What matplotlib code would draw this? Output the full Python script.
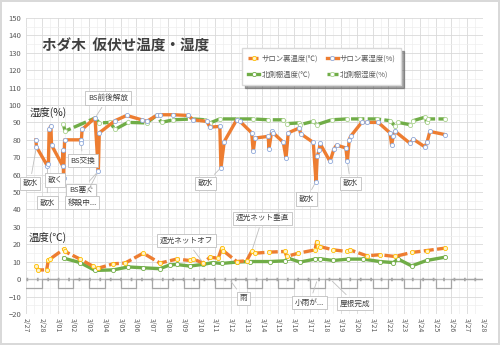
import matplotlib.pyplot as plt
from matplotlib.ticker import MultipleLocator

plt.rcParams['font.family'] = ['Noto Sans CJK JP', 'DejaVu Sans']

# days counted from 2/27 00:00
dates = ["2/27", "2/28"] + ["3/%02d" % i for i in range(1, 29)]

salon_hum_x = [0.63, 0.66, 1.36, 1.42, 1.47, 1.58, 1.62, 2.33, 2.36, 2.38, 2.45, 3.47, 3.50, 3.56,
               4.38, 4.59, 4.65, 5.65, 6.39, 7.34, 7.66, 8.29, 8.50, 9.33, 10.30, 10.60, 11.47,
               11.68, 12.30, 12.37, 12.58, 13.37, 13.58, 14.32, 14.42, 14.53, 15.37, 15.42, 15.59,
               15.69, 16.33, 16.50, 16.64, 17.34, 17.43, 18.23, 18.40, 18.48, 18.61, 18.65, 19.29,
               19.54, 19.71, 20.30, 20.39, 20.51, 20.60, 21.30, 21.62, 22.35, 23.10, 23.20, 23.30,
               23.41, 24.37, 24.57, 25.32, 25.46, 25.63, 26.59]
salon_hum = [80, 76, 65, 66, 86, 88, 77, 65, 74, 58, 80, 80, 78, 86,
             92.6, 62, 84, 91, 94, 91.5, 90.6, 94, 94.4, 94.4, 94, 91.5, 90.6,
             87.3, 87.7, 64, 79, 91.5, 90.6, 84, 73.3, 81, 82, 75, 84.8,
             84, 78.5, 69.5, 84, 86.8, 83.5, 78.5, 56, 70.5, 74.3, 78, 67.6,
             74.7, 77, 75.3, 67.6, 80, 82, 90, 90, 90, 84, 77, 82,
             85, 78, 80.4, 75.9, 79, 84.8, 83]

north_hum_x = [2.37, 2.48, 4.38, 4.65, 5.33, 5.65, 6.47, 7.66, 8.29, 8.60, 9.33, 10.60, 11.36,
               11.68, 12.30, 13.37, 14.40, 15.37, 16.33, 16.55, 17.30, 17.39, 18.23, 18.45, 19.40,
               20.35, 21.20, 22.25, 23.10, 23.41, 23.62, 24.37, 24.57, 25.32, 25.42, 25.53, 26.59]
north_hum = [89, 85, 92.5, 89.7, 90, 86, 90, 89.7, 94, 90, 91.5, 92, 91.5,
             89.7, 92, 92, 92, 91.5, 91.5, 89.3, 89.7, 88.7, 90.6, 88.7, 91.5,
             92, 92, 92, 91, 88, 90, 88.7, 91, 93, 90, 92, 92]

salon_tmp_x = [0.63, 0.78, 1.31, 1.42, 1.52, 2.43, 2.47, 3.43, 4.27, 4.59, 5.54, 6.28, 7.44, 8.50,
               9.56, 10.40, 10.62, 11.25, 11.68, 12.20, 12.42, 12.52, 13.37, 14.00, 14.32, 14.53,
               15.44, 16.43, 16.54, 17.28, 18.34, 18.45, 18.53, 18.65, 19.50, 20.35, 20.56, 21.62,
               22.46, 23.41, 24.47, 25.42, 26.59]
salon_tmp = [7.3, 5.3, 5.3, 11, 11.5, 17.4, 15.9, 11.5, 7.3, 6.3, 8.8, 9.2, 14.9, 9.2,
             11.5, 10.7, 11.5, 9.2, 12.6, 12, 17.8, 16.3, 10.1, 10.5, 15.9, 14.9,
             15.5, 15.9, 13, 14.9, 16.8, 21.6, 19, 18.7, 16.8, 15.9, 16.8, 13.4,
             14, 13, 15.3, 16.4, 17.8]

north_tmp_x = [2.40, 3.43, 4.38, 5.54, 6.49, 7.44, 8.50, 9.14, 9.56, 10.40, 11.25, 11.88, 12.42,
               13.37, 14.20, 15.48, 16.43, 16.64, 17.39, 18.34, 18.65, 19.50, 20.45, 21.40, 22.46,
               23.30, 23.62, 24.47, 25.42, 26.59]
north_tmp = [12, 9.5, 5, 5.3, 7, 6.5, 6, 8.2, 8.4, 7.5, 8.5, 9.5, 9,
             9.8, 10.1, 10.1, 10.5, 12, 9.8, 11.5, 11.7, 10.7, 11.5, 11.5, 10.1,
             9.5, 11.5, 7.6, 10.7, 12.6]

# day/night band
band_x = list(range(0, 30))
band = [-5, 0] * 13 + [-5, 0, 0, 0]

notes = [
    ("BS前後解放", (5.2, 104), (4.38, 92.6)),
    ("BS交換", (3.6, 68), (3.5, 78)),
    ("散水", (0.25, 55), (0.66, 76)),
    ("散水", (1.35, 44), (1.36, 65)),
    ("散く", (1.85, 57), (2.38, 58)),
    ("BS塞ぐ", (3.5, 51), (4.59, 62)),
    ("移設中...", (3.55, 44), (4.59, 62)),
    ("散水", (11.4, 55), (12.37, 64)),
    ("散水", (17.8, 46), (18.40, 56)),
    ("散水", (20.6, 55), (20.39, 67.6)),
    ("遮光ネットオフ", (10.2, 22), (11.25, 9.2)),
    ("遮光ネット垂直", (15.0, 35), (14.32, 15.9)),
    ("雨", (13.8, -11), (12.9, 0)),
    ("小雨が...", (18.0, -13.5), (18.5, 0)),
    ("屋根完成", (20.9, -14), (19.3, 0)),
]

fig = plt.figure(figsize=(5, 3.45), dpi=100)
fig.patch.set_edgecolor('#d9d9d9')
fig.patch.set_linewidth(1.5)
ax = fig.add_axes([0.052, 0.09, 0.914, 0.858])

orange = '#ED7D31'
green = '#70AD47'

ax.step(band_x, band, where='post', color='#a6a6a6', lw=0.9, zorder=2)
ax.axhline(0, color='#bfbfbf', lw=1.0, zorder=1)
ax.axhline(0, color='#a6a6a6', lw=2.5, ls=(0, (0.5, 2.5)), zorder=1)

l1, = ax.plot(salon_tmp_x, salon_tmp, color=orange, lw=2.4, ls=(0, (3, 1)), marker='o', ms=3,
              mfc='#fff2cc', mec='#ffc000', mew=0.6, label='サロン裏温度(℃)', zorder=4)
l2, = ax.plot(salon_hum_x, salon_hum, color=orange, lw=2.4, marker='o', ms=3,
              mfc='white', mec='#8faadc', mew=0.6, label='サロン裏湿度(%)', zorder=4)
l3, = ax.plot(north_tmp_x, north_tmp, color=green, lw=2.4, marker='o', ms=3,
              mfc='white', mec=green, mew=0.6, label='北側棚温度(℃)', zorder=3)
l4, = ax.plot(north_hum_x, north_hum, color=green, lw=2.4, ls=(0, (4, 1)), marker='o', ms=3,
              mfc='white', mec='#a9d18e', mew=0.6, label='北側棚湿度(%)', zorder=3)

for txt, pos, pt in notes:
    ax.annotate(txt, xy=pt, xytext=pos, fontsize=5.5, color='#404040', ha='center', va='center',
                bbox=dict(boxstyle='square,pad=0.35', fc='white', ec='#bfbfbf', lw=0.6),
                arrowprops=dict(arrowstyle='-', color='#bfbfbf', lw=0.6), zorder=5)

ax.text(1.4, 95.5, '湿度(%)', fontsize=7.5, color='#262626', ha='center', va='center')
ax.text(1.4, 24, '温度(℃)', fontsize=7.5, color='#262626', ha='center', va='center')
ax.text(1.0, 134, 'ホダ木  仮伏せ温度・湿度', fontsize=10.5, fontweight='bold', color='#404040',
        va='center')

ax.set_xlim(0, 29)
ax.set_ylim(-20, 150)
ax.set_xticks(range(30))
ax.set_xticklabels(dates, rotation=-90, fontsize=5, color='#595959')
ax.xaxis.set_minor_locator(MultipleLocator(0.5))
ax.yaxis.set_major_locator(MultipleLocator(10))
ax.yaxis.set_minor_locator(MultipleLocator(5))
ax.tick_params(axis='y', labelsize=5.5, colors='#595959', length=0)
ax.tick_params(axis='x', length=0, pad=3)
ax.tick_params(which='minor', length=0)
ax.grid(which='major', color='#d9d9d9', lw=0.6)
ax.grid(which='minor', color='#eeeeee', lw=0.5)
ax.set_axisbelow(True)
for s in ax.spines.values():
    s.set_visible(False)

leg = ax.legend(handles=[l1, l3, l2, l4], ncol=2, loc='upper left', bbox_to_anchor=(0.465, 0.91),
                fontsize=5.3, frameon=True, fancybox=False, shadow=True, handlelength=1.5,
                handletextpad=0.3, borderpad=0.8, labelspacing=1.2, columnspacing=1.2)
leg.get_frame().set_edgecolor('#d9d9d9')
for t in leg.get_texts():
    t.set_color('#595959')

fig.savefig('out.png', dpi=100)
